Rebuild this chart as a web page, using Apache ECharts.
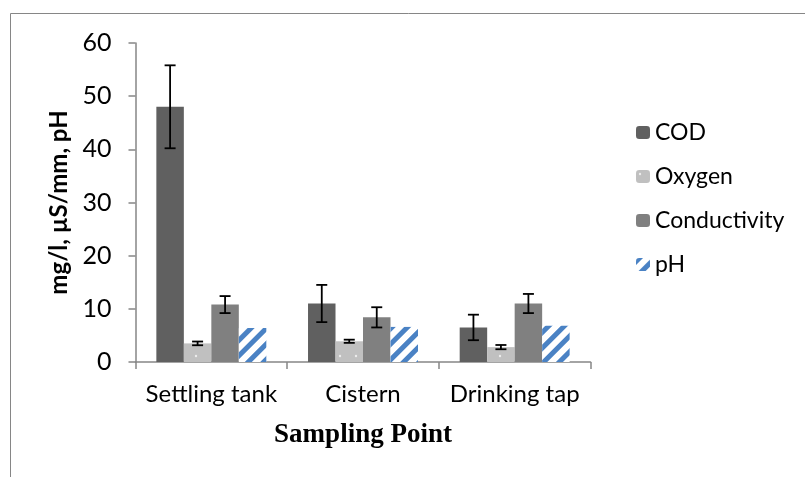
<!DOCTYPE html>
<html>
<head>
<meta charset="utf-8">
<script src="https://cdn.jsdelivr.net/npm/echarts@6/dist/echarts.min.js"></script>
<style>html,body{margin:0;padding:0;background:#fff;}#c{width:805px;height:477px;}</style>
</head>
<body>
<div id="c"></div>
<script>
const categories = ['Settling tank', 'Cistern', 'Drinking tap'];
const seriesNames = ['COD', 'Oxygen', 'Conductivity', 'pH'];
const codValues = [48, 11, 6.5];
const codErrors = [7.8, 3.5, 2.4];
const oxygenValues = [3.5, 3.9, 2.8];
const oxygenErrors = [0.35, 0.3, 0.4];
const conductivityValues = [10.8, 8.4, 11];
const conductivityErrors = [1.6, 1.9, 1.8];
const phValues = [6.4, 6.6, 6.8];
const yTicks = [0, 10, 20, 30, 40, 50, 60];

const values = [codValues, oxygenValues, conductivityValues, phValues];
const errors = [codErrors, oxygenErrors, conductivityErrors, null];
const GAP = 0.275;

const errData = [];
values.forEach((vals, si) => {
  if (!errors[si]) return;
  vals.forEach((v, ci) => {
    errData.push([ci, v - errors[si][ci], v + errors[si][ci], si]);
  });
});

const font = 'Lato, "Open Sans", sans-serif';
const chart = echarts.init(document.getElementById('c'));
chart.setOption({
  animation: false,
  backgroundColor: '#fff',
  graphic: [{
    type: 'rect', shape: {x: 10.5, y: 13.5, width: 820, height: 500},
    style: {fill: 'none', stroke: '#868686', lineWidth: 1}, silent: true
  }],
  grid: {left: 135.5, right: 214.5, top: 43, bottom: 115},
  legend: {
    orient: 'vertical', left: 631, top: 116,
    itemWidth: 14, itemHeight: 13, itemGap: 21,
    data: seriesNames,
    textStyle: {fontFamily: font, fontSize: 23, color: '#000'}
  },
  xAxis: {
    type: 'category', data: categories,
    axisLine: {lineStyle: {color: '#868686', width: 1.5}},
    axisTick: {show: true, length: 7, lineStyle: {color: '#868686', width: 1.5}},
    axisLabel: {fontFamily: font, fontSize: 24, color: '#000', margin: 20, interval: 0, hideOverlap: false},
    name: 'Sampling Point', nameLocation: 'middle', nameGap: 60,
    nameTextStyle: {fontFamily: '"Liberation Serif", "Times New Roman", serif', fontSize: 27, fontWeight: 'bold', color: '#000'}
  },
  yAxis: {
    type: 'value', min: 0, max: 60, interval: 10,
    axisLine: {show: true, lineStyle: {color: '#868686', width: 1.5}},
    axisTick: {show: true, length: 7, lineStyle: {color: '#868686', width: 1.5}},
    splitLine: {show: false},
    axisLabel: {fontFamily: font, fontSize: 25, color: '#000', margin: 24,
      formatter: v => yTicks.includes(v) ? String(v) : ''},
    name: 'mg/l, µS/mm, pH', nameLocation: 'middle', nameGap: 62, nameRotate: 90,
    nameTextStyle: {fontFamily: font, fontSize: 24, fontWeight: 'bold', color: '#000'}
  },
  series: [
    {name: 'COD', type: 'bar', data: codValues, barGap: '0%', barCategoryGap: (GAP * 100) + '%',
      itemStyle: {color: '#606060'}},
    {name: 'Oxygen', type: 'bar', data: oxygenValues,
      itemStyle: {color: '#c0c0c0', decal: {symbol: 'circle', symbolSize: 0.3, color: '#ececec',
        dashArrayX: [[8, 8]], dashArrayY: [8, 8], rotation: 0}}},
    {name: 'Conductivity', type: 'bar', data: conductivityValues,
      itemStyle: {color: '#808080'}},
    {name: 'pH', type: 'bar', data: phValues,
      itemStyle: {color: '#ffffff', decal: {symbol: 'rect', symbolSize: 1, color: '#4a82c4',
        dashArrayX: [1, 0], dashArrayY: [5, 6], rotation: -Math.PI / 4}}},
    {name: 'err', type: 'custom', data: errData, z: 10,
      encode: {x: 0, y: [1, 2]},
      renderItem: function (params, api) {
        const ci = api.value(0);
        const lo = api.coord([ci, api.value(1)]);
        const hi = api.coord([ci, api.value(2)]);
        const band = api.size([1, 0])[0];
        const bw = band * (1 - GAP) / 4;
        const x = lo[0] + (api.value(3) - 1.5) * bw;
        const cap = 5.5;
        const st = {stroke: '#000', lineWidth: 1.8};
        return {type: 'group', children: [
          {type: 'line', shape: {x1: x, y1: lo[1], x2: x, y2: hi[1]}, style: st},
          {type: 'line', shape: {x1: x - cap, y1: lo[1], x2: x + cap, y2: lo[1]}, style: st},
          {type: 'line', shape: {x1: x - cap, y1: hi[1], x2: x + cap, y2: hi[1]}, style: st}
        ]};
      }
    }
  ]
});
</script>
</body>
</html>
